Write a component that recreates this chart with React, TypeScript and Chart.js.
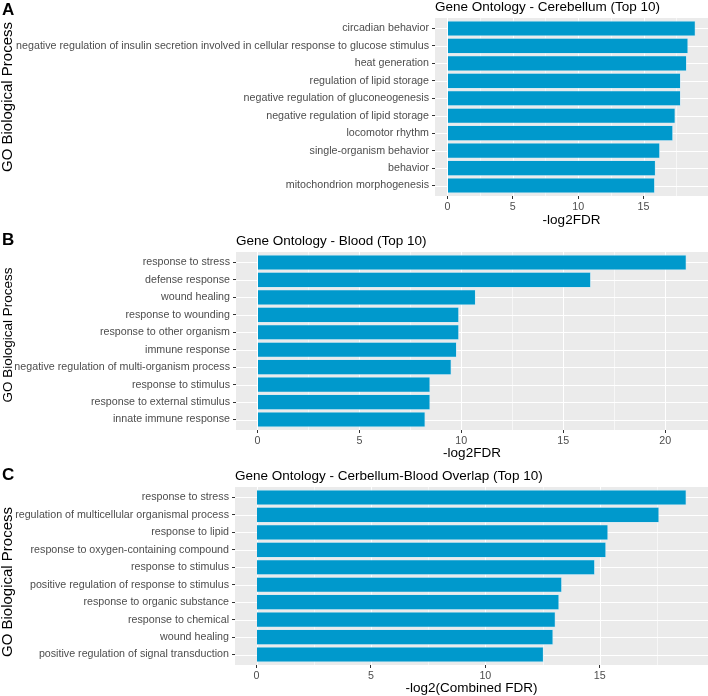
import React, { useEffect, useRef } from 'react';
import { Chart, registerables } from 'chart.js';

Chart.register(...registerables);

const FONT = '"Liberation Sans", Arial, Helvetica, sans-serif';

const cerebellumTerms = [
  'circadian behavior',
  'negative regulation of insulin secretion involved in cellular response to glucose stimulus',
  'heat generation',
  'regulation of lipid storage',
  'negative regulation of gluconeogenesis',
  'negative regulation of lipid storage',
  'locomotor rhythm',
  'single-organism behavior',
  'behavior',
  'mitochondrion morphogenesis',
];
const cerebellumValues = [18.98, 18.42, 18.31, 17.85, 17.85, 17.44, 17.26, 16.26, 15.93, 15.87];

const bloodTerms = [
  'response to stress',
  'defense response',
  'wound healing',
  'response to wounding',
  'response to other organism',
  'immune response',
  'negative regulation of multi-organism process',
  'response to stimulus',
  'response to external stimulus',
  'innate immune response',
];
const bloodValues = [21.05, 16.36, 10.71, 9.89, 9.89, 9.78, 9.52, 8.48, 8.48, 8.24];

const overlapTerms = [
  'response to stress',
  'regulation of multicellular organismal process',
  'response to lipid',
  'response to oxygen-containing compound',
  'response to stimulus',
  'positive regulation of response to stimulus',
  'response to organic substance',
  'response to chemical',
  'wound healing',
  'positive regulation of signal transduction',
];
const overlapValues = [18.79, 17.6, 15.37, 15.28, 14.79, 13.35, 13.23, 13.07, 12.97, 12.55];

const xTickValues = [0, 5, 10, 15, 20];
const yAxisTitle = 'GO Biological Process';

const ggPanel = {
  id: 'ggPanel',
  beforeDatasetsDraw(chart: any) {
    const { ctx, chartArea: a, scales } = chart;
    const x = scales.x;
    const y = scales.y;
    ctx.save();
    ctx.fillStyle = '#ebebeb';
    ctx.fillRect(a.left, a.top, a.right - a.left, a.bottom - a.top);
    ctx.strokeStyle = '#ffffff';
    const major = x.ticks.map((t: any) => t.value);
    const step = major.length > 1 ? major[1] - major[0] : 5;
    ctx.lineWidth = 0.6;
    for (let v = major[0] - step / 2; v <= x.max; v += step) {
      if (v < x.min) continue;
      const px = Math.round(x.getPixelForValue(v)) + 0.5;
      ctx.beginPath();
      ctx.moveTo(px, a.top);
      ctx.lineTo(px, a.bottom);
      ctx.stroke();
    }
    ctx.lineWidth = 1.1;
    major.forEach((v: number) => {
      const px = Math.round(x.getPixelForValue(v)) + 0.5;
      ctx.beginPath();
      ctx.moveTo(px, a.top);
      ctx.lineTo(px, a.bottom);
      ctx.stroke();
    });
    y.ticks.forEach((t: any) => {
      const py = Math.round(y.getPixelForValue(t.value)) + 0.5;
      ctx.beginPath();
      ctx.moveTo(a.left, py);
      ctx.lineTo(a.right, py);
      ctx.stroke();
    });
    ctx.restore();
  },
};

const yTitlePlugin = {
  id: 'yTitlePlugin',
  afterDraw(chart: any, _args: any, opts: any) {
    const { ctx } = chart;
    ctx.save();
    ctx.translate(opts.x, opts.y);
    ctx.rotate(-Math.PI / 2);
    ctx.fillStyle = '#000000';
    ctx.font = `${opts.size}px ${FONT}`;
    ctx.textAlign = 'center';
    ctx.textBaseline = 'middle';
    ctx.fillText(opts.text, 0, 0);
    ctx.restore();
  },
};

type PanelProps = {
  title: string;
  terms: string[];
  values: number[];
  xTitle: string;
  top: number;
  height: number;
  plotLeft: number;
  xTitlePad: number;
  yTitleY: number;
  yTitleSize: number;
};

function Panel({ title, terms, values, xTitle, top, height, plotLeft, xTitlePad, yTitleY, yTitleSize }: PanelProps) {
  const ref = useRef<HTMLCanvasElement | null>(null);
  useEffect(() => {
    if (!ref.current) return;
    const maxV = Math.max(...values);
    const plotTop = 18;
    const plotBottom = 196;
    const chart = new Chart(ref.current, {
      type: 'bar',
      data: {
        datasets: [
          {
            data: values.map((v, i) => ({ x: v, y: i })) as any,
            backgroundColor: '#0099cc',
            borderColor: '#cfe9f5',
            borderWidth: 0.8,
            barPercentage: 0.9,
            categoryPercentage: 1,
          },
        ],
      },
      options: {
        indexAxis: 'y',
        animation: false,
        responsive: false,
        maintainAspectRatio: false,
        layout: { padding: 0 },
        plugins: {
          legend: { display: false },
          tooltip: { enabled: false },
          title: {
            display: true,
            text: title,
            align: 'start',
            fullSize: false,
            color: '#000000',
            font: { family: FONT, size: 13.5, weight: 'normal', lineHeight: 1 },
            padding: { top: 0.5, bottom: plotTop - 14 },
          },
          yTitlePlugin: { text: yAxisTitle, x: 8, y: yTitleY, size: yTitleSize },
        },
        scales: {
          x: {
            type: 'linear',
            offset: false,
            min: -0.05 * maxV,
            max: 1.05 * maxV,
            afterBuildTicks: (s: any) => {
              s.ticks = xTickValues.filter((v) => v <= s.max).map((v) => ({ value: v }));
            },
            afterFit: (s: any) => {
              s.height = height - plotBottom;
            },
            grid: { drawOnChartArea: false, offset: false, color: '#333333', tickLength: 3, lineWidth: 1 },
            border: { display: false },
            ticks: { color: '#4d4d4d', font: { family: FONT, size: 10.7 }, padding: 2, autoSkip: false, maxRotation: 0 },
            title: {
              display: true,
              text: xTitle,
              color: '#000000',
              font: { family: FONT, size: 13.5, lineHeight: 1 },
              padding: { top: 0, bottom: xTitlePad },
            },
          },
          y: {
            type: 'linear',
            offset: false,
            reverse: true,
            min: -0.6,
            max: terms.length - 1 + 0.6,
            afterBuildTicks: (s: any) => {
              s.ticks = terms.map((_, i) => ({ value: i }));
            },
            afterFit: (s: any) => {
              s.width = plotLeft;
            },
            grid: { drawOnChartArea: false, offset: false, color: '#333333', tickLength: 3, lineWidth: 1 },
            border: { display: false },
            ticks: {
              color: '#4d4d4d',
              font: { family: FONT, size: 10.7 },
              padding: 3,
              autoSkip: false,
              callback: (v: any) => terms[v as number] ?? '',
            },
            title: { display: false },
          },
        },
      } as any,
      plugins: [ggPanel, yTitlePlugin],
    });
    return () => chart.destroy();
  }, [title, terms, values, xTitle, height, plotLeft, xTitlePad, yTitleY, yTitleSize]);
  return (
    <canvas
      ref={ref}
      width={708}
      height={height}
      style={{ position: 'absolute', left: 0, top, width: 708, height }}
    />
  );
}

const letterStyle = (top: number): React.CSSProperties => ({
  position: 'absolute',
  left: 2,
  top,
  fontFamily: FONT,
  fontWeight: 'bold',
  fontSize: 17,
  lineHeight: '17px',
  color: '#000',
});

export default function App() {
  return (
    <div style={{ position: 'absolute', left: 0, top: 0, width: 708, height: 696, background: '#ffffff', overflow: 'hidden' }}>
      <Panel
        title="Gene Ontology - Cerebellum (Top 10)"
        terms={cerebellumTerms}
        values={cerebellumValues}
        xTitle="-log2FDR"
        top={0}
        height={234}
        plotLeft={435}
        xTitlePad={7}
        yTitleY={97}
        yTitleSize={15}
      />
      <Panel
        title="Gene Ontology - Blood (Top 10)"
        terms={bloodTerms}
        values={bloodValues}
        xTitle="-log2FDR"
        top={234}
        height={235}
        plotLeft={236}
        xTitlePad={9}
        yTitleY={101}
        yTitleSize={13.5}
      />
      <Panel
        title="Gene Ontology - Cerbellum-Blood Overlap (Top 10)"
        terms={overlapTerms}
        values={overlapValues}
        xTitle="-log2(Combined FDR)"
        top={469}
        height={227}
        plotLeft={235}
        xTitlePad={1}
        yTitleY={113}
        yTitleSize={15}
      />
      <div style={letterStyle(1)}>A</div>
      <div style={letterStyle(231)}>B</div>
      <div style={letterStyle(466)}>C</div>
    </div>
  );
}
